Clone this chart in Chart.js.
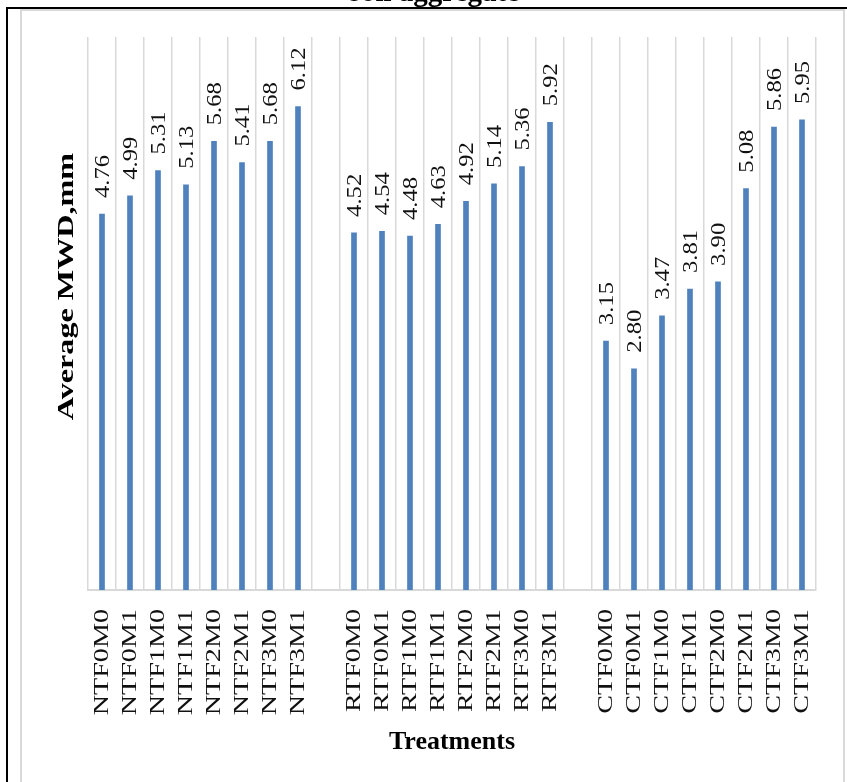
<!DOCTYPE html>
<html>
<head>
<meta charset="utf-8">
<title>Average MWD of soil aggregate</title>
<script src="https://cdn.jsdelivr.net/npm/chart.js@4.4.1/dist/chart.umd.min.js"></script>
<style>
    html, body { margin: 0; padding: 0; background: #ffffff; overflow: hidden; }
    .outer-frame {
        position: absolute; left: 6px; top: 7px; width: 845px; height: 790px;
        border-top: 2px solid #000000; border-left: 2px solid #000000;
    }
    .inner-frame {
        position: absolute; left: 20px; top: 9px; width: 821px; height: 790px;
        border: 2px solid #d9d9d9;
    }
    #mwd-chart { position: absolute; left: 0; top: 0; }
</style>
</head>
<body>
<div class="outer-frame"></div>
<div class="inner-frame"></div>
<canvas id="mwd-chart" width="847" height="782" style="width:847px;height:782px;"></canvas>
<script>
// Treatments per tillage system (NT, RT, CT)
const ntLabels = ['NTF0M0', 'NTF0M1', 'NTF1M0', 'NTF1M1', 'NTF2M0', 'NTF2M1', 'NTF3M0', 'NTF3M1'];
const rtLabels = ['RTF0M0', 'RTF0M1', 'RTF1M0', 'RTF1M1', 'RTF2M0', 'RTF2M1', 'RTF3M0', 'RTF3M1'];
const ctLabels = ['CTF0M0', 'CTF0M1', 'CTF1M0', 'CTF1M1', 'CTF2M0', 'CTF2M1', 'CTF3M0', 'CTF3M1'];

// Average MWD, mm
const ntValues = [4.76, 4.99, 5.31, 5.13, 5.68, 5.41, 5.68, 6.12];
const rtValues = [4.52, 4.54, 4.48, 4.63, 4.92, 5.14, 5.36, 5.92];
const ctValues = [3.15, 2.80, 3.47, 3.81, 3.90, 5.08, 5.86, 5.95];

const yMin = 0;
const yMax = 7;

// one empty category between the groups
const categories = [...ntLabels, '', ...rtLabels, '', ...ctLabels];
const mwdValues = [...ntValues, null, ...rtValues, null, ...ctValues];

const SERIF = '"Liberation Serif", "Times New Roman", serif';
// the source figure is stretched vertically, so upright text runs longer
const STRETCH = 1.34;
const VALUE_STRETCH = 1.12;

// Value labels written upwards above each bar
const valueLabels = {
    id: 'valueLabels',
    afterDatasetsDraw(chart) {
        const ctx = chart.ctx;
        const meta = chart.getDatasetMeta(0);
        ctx.save();
        ctx.font = '22px ' + SERIF;
        ctx.fillStyle = '#111111';
        ctx.textAlign = 'left';
        ctx.textBaseline = 'middle';
        meta.data.forEach((bar, i) => {
            const v = mwdValues[i];
            if (v === null) return;
            ctx.save();
            ctx.translate(bar.x + 1.5, bar.y - 16);
            ctx.scale(1, VALUE_STRETCH);
            ctx.rotate(-Math.PI / 2);
            ctx.fillText(v.toFixed(2), 0, 0);
            ctx.restore();
        });
        ctx.restore();
    }
};

// Stretch the rotated tick labels and the y title the same way
const stretchedText = {
    id: 'stretchedText',
    beforeDraw(chart) {
        const xs = chart.scales.x;
        const ys = chart.scales.y;
        if (!xs._stretched) {
            const drawLabels = xs.drawLabels;
            xs.drawLabels = function (area) {
                const y0 = this.top + this.options.ticks.padding;
                this.ctx.save();
                this.ctx.translate(0, y0);
                this.ctx.scale(1, STRETCH);
                this.ctx.translate(0, -y0);
                drawLabels.call(this, area);
                this.ctx.restore();
            };
            xs._stretched = true;
        }
        if (!ys._stretched) {
            const drawTitle = ys.drawTitle;
            ys.drawTitle = function () {
                const cy = (this.top + this.bottom) / 2;
                this.ctx.save();
                this.ctx.translate(0, cy - 27);
                this.ctx.scale(1, STRETCH);
                this.ctx.translate(0, -cy);
                drawTitle.call(this);
                this.ctx.restore();
            };
            ys._stretched = true;
        }
    }
};

new Chart(document.getElementById('mwd-chart'), {
    type: 'bar',
    data: {
        labels: categories,
        datasets: [{
            label: 'Average MWD',
            data: mwdValues,
            backgroundColor: '#4F81BD',
            borderWidth: 0,
            barThickness: 5
        }]
    },
    options: {
        responsive: false,
        animation: false,
        devicePixelRatio: 1,
        layout: {
            padding: { left: 52.6, right: 31, top: 0, bottom: 0 }
        },
        plugins: {
            legend: { display: false },
            tooltip: { enabled: false },
            title: {
                display: true,
                text: 'soil aggregate',
                color: '#000000',
                font: { family: SERIF, size: 29, weight: 'bold', lineHeight: 1.2 },
                padding: { top: -24.2, bottom: 26.4 }
            }
        },
        scales: {
            x: {
                offset: true,
                grid: {
                    display: true,
                    offset: true,
                    color: '#d9d9d9',
                    lineWidth: 1.5,
                    drawTicks: false
                },
                border: { display: true, color: '#d9d9d9', width: 2 },
                ticks: {
                    autoSkip: false,
                    minRotation: 90,
                    maxRotation: 90,
                    padding: 19,
                    color: '#111111',
                    font: { family: SERIF, size: 21 }
                },
                title: {
                    display: true,
                    text: 'Treatments',
                    color: '#000000',
                    font: { family: SERIF, size: 26, weight: 'bold', lineHeight: 1.2 },
                    padding: { top: 0, bottom: 24.4 }
                },
                afterFit(scale) {
                    scale.height = 192;
                }
            },
            y: {
                min: yMin,
                max: yMax,
                grid: { display: false, drawTicks: false },
                border: { display: false },
                ticks: { display: false },
                title: {
                    display: true,
                    text: 'Average MWD,mm',
                    color: '#000000',
                    font: { family: SERIF, size: 24, weight: 'bold', lineHeight: 1.2 },
                    padding: { top: 0, bottom: 6.6 }
                }
            }
        }
    },
    plugins: [valueLabels, stretchedText]
});
</script>
</body>
</html>
